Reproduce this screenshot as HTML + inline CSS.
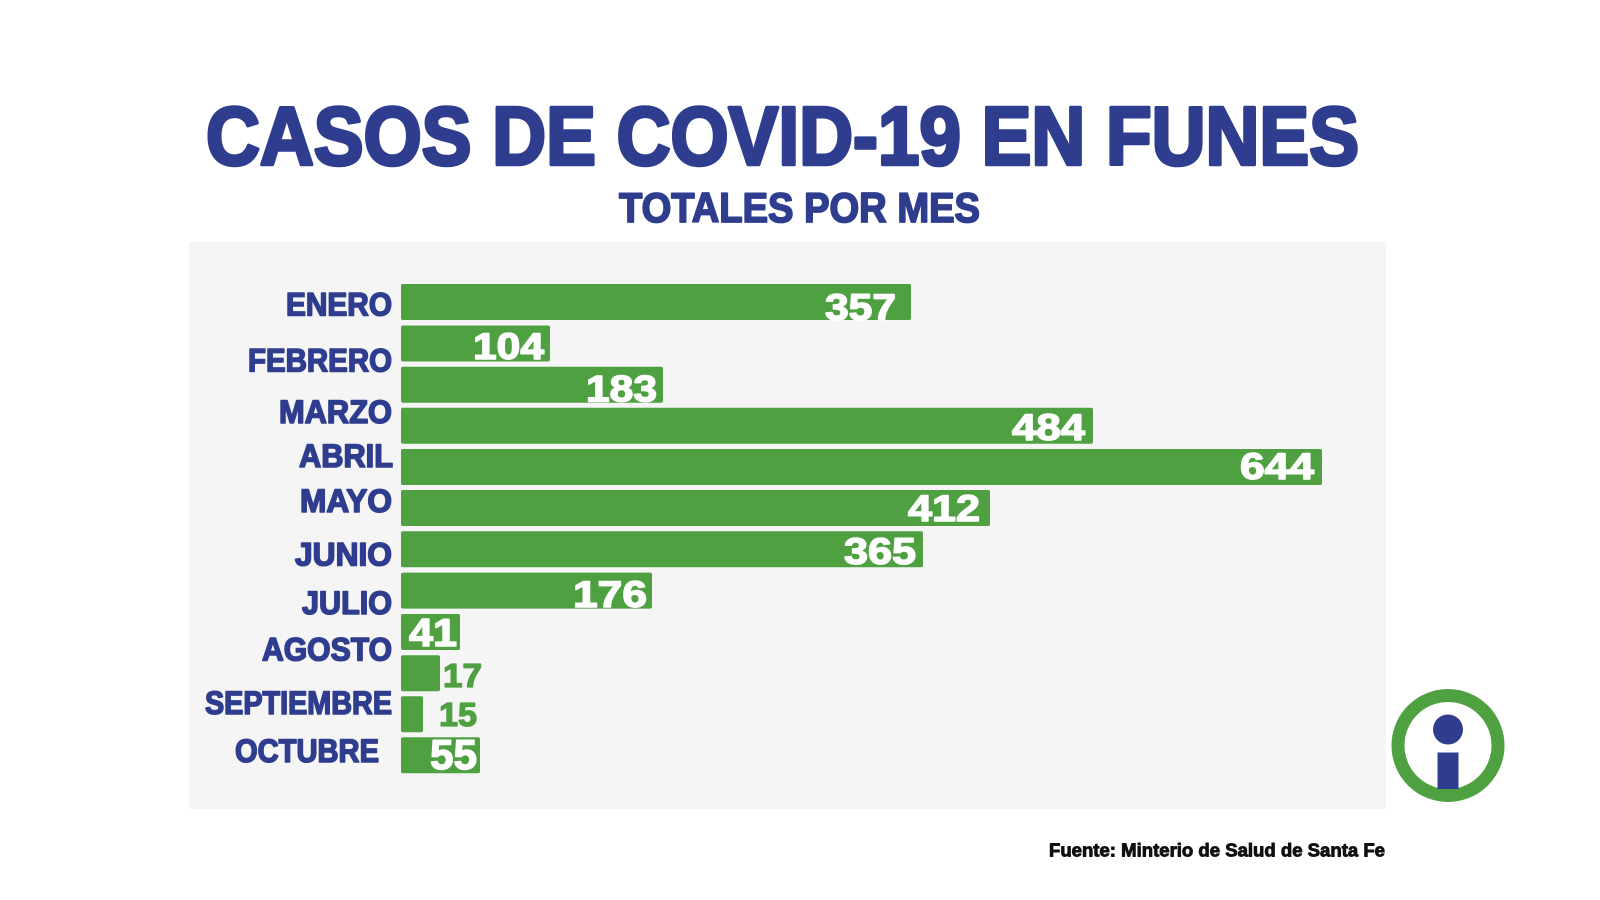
<!DOCTYPE html>
<html>
<head>
<meta charset="utf-8">
<style>
  html,body{margin:0;padding:0;background:#ffffff;}
  svg{display:block;}
  text{font-family:"Liberation Sans", Arial, sans-serif;font-weight:bold;}
</style>
</head>
<body>
<svg width="1600" height="900" viewBox="0 0 1600 900" xmlns="http://www.w3.org/2000/svg">
  <rect x="0" y="0" width="1600" height="900" fill="#ffffff"/>

  <!-- Title -->
  <text x="206" y="164.5" font-size="83" fill="#2f3d8f" stroke="#2f3d8f" stroke-width="3.6" stroke-linejoin="round" textLength="1153" lengthAdjust="spacingAndGlyphs">CASOS DE COVID-19 EN FUNES</text>
  <text x="619" y="222" font-size="41.5" fill="#2f3d8f" stroke="#2f3d8f" stroke-width="1.8" stroke-linejoin="round" textLength="361" lengthAdjust="spacingAndGlyphs">TOTALES POR MES</text>

  <!-- Panel -->
  <rect x="189" y="242" width="1197" height="567" fill="#f5f5f5"/>

  <!-- Bars -->
  <g fill="#4ea041">
    <rect x="401" y="284" width="510" height="36" rx="2"/>
    <rect x="401" y="325.5" width="149" height="36" rx="2"/>
    <rect x="401" y="366.7" width="262" height="36" rx="2"/>
    <rect x="401" y="407.8" width="692" height="36" rx="2"/>
    <rect x="401" y="449" width="921" height="36" rx="2"/>
    <rect x="401" y="490" width="589" height="36" rx="2"/>
    <rect x="401" y="531.2" width="522" height="36" rx="2"/>
    <rect x="401" y="572.6" width="251" height="36" rx="2"/>
    <rect x="401" y="614" width="59" height="36" rx="2"/>
    <rect x="401" y="655.3" width="39" height="36" rx="2"/>
    <rect x="401" y="696.2" width="22" height="36" rx="2"/>
    <rect x="401" y="737.3" width="79" height="36" rx="2"/>
  </g>

  <!-- Month labels -->
  <g font-size="32" fill="#2f3d8f" stroke="#2f3d8f" stroke-width="1.6" stroke-linejoin="round">
    <text x="286" y="315.5" textLength="106" lengthAdjust="spacingAndGlyphs">ENERO</text>
    <text x="248" y="371.5" textLength="144" lengthAdjust="spacingAndGlyphs">FEBRERO</text>
    <text x="279" y="423" textLength="113" lengthAdjust="spacingAndGlyphs">MARZO</text>
    <text x="299" y="467" textLength="94" lengthAdjust="spacingAndGlyphs">ABRIL</text>
    <text x="300" y="512" textLength="92" lengthAdjust="spacingAndGlyphs">MAYO</text>
    <text x="295" y="565.5" textLength="97" lengthAdjust="spacingAndGlyphs">JUNIO</text>
    <text x="302" y="613.8" textLength="90" lengthAdjust="spacingAndGlyphs">JULIO</text>
    <text x="262" y="660.5" textLength="130" lengthAdjust="spacingAndGlyphs">AGOSTO</text>
    <text x="205" y="713.8" textLength="187" lengthAdjust="spacingAndGlyphs">SEPTIEMBRE</text>
    <text x="235" y="762" textLength="144" lengthAdjust="spacingAndGlyphs">OCTUBRE</text>
  </g>

  <!-- Value labels -->
  <g font-size="37" fill="#ffffff" stroke="#ffffff" stroke-width="1.4" stroke-linejoin="round">
    <text x="825" y="320" textLength="71" lengthAdjust="spacingAndGlyphs">357</text>
    <text x="473" y="359" textLength="71" lengthAdjust="spacingAndGlyphs">104</text>
    <text x="586" y="401.5" textLength="71" lengthAdjust="spacingAndGlyphs">183</text>
    <text x="1012" y="440" textLength="73" lengthAdjust="spacingAndGlyphs">484</text>
    <text x="1240" y="479" textLength="74" lengthAdjust="spacingAndGlyphs">644</text>
    <text x="908" y="521" textLength="72" lengthAdjust="spacingAndGlyphs">412</text>
    <text x="844" y="564" textLength="72" lengthAdjust="spacingAndGlyphs">365</text>
    <text x="573" y="607" textLength="74" lengthAdjust="spacingAndGlyphs">176</text>
    <text x="409" y="646" font-size="39" textLength="48" lengthAdjust="spacingAndGlyphs">41</text>
    <text x="430" y="769" font-size="42" textLength="47" lengthAdjust="spacingAndGlyphs">55</text>
  </g>
  <g font-size="33" fill="#4ea041" stroke="#4ea041" stroke-width="1.3" stroke-linejoin="round">
    <text x="443" y="687" textLength="39" lengthAdjust="spacingAndGlyphs">17</text>
    <text x="439" y="726" textLength="38" lengthAdjust="spacingAndGlyphs">15</text>
  </g>

  <!-- Info icon -->
  <circle cx="1448" cy="745.5" r="50" fill="#ffffff" stroke="#4ea041" stroke-width="13"/>
  <circle cx="1448" cy="729.5" r="15" fill="#2f3d8f"/>
  <rect x="1437.5" y="752.5" width="21" height="36.5" fill="#2f3d8f"/>

  <!-- Footer -->
  <text x="1049" y="856.5" font-size="18" fill="#111111" stroke="#111111" stroke-width="0.9" stroke-linejoin="round" textLength="336" lengthAdjust="spacingAndGlyphs">Fuente: Minterio de Salud de Santa Fe</text>
</svg>
</body>
</html>
